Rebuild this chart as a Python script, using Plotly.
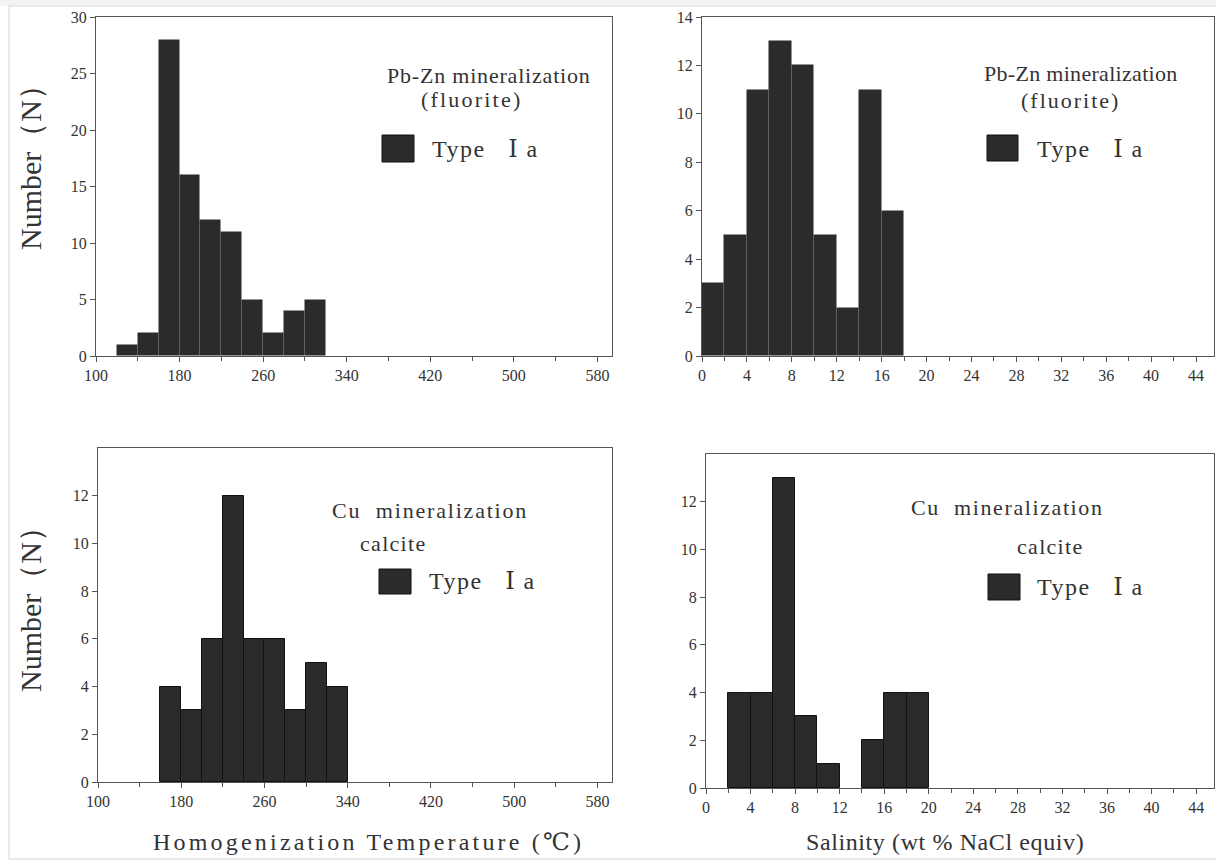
import plotly.graph_objects as go

W, H = 1216, 862

# ---- data ----
temp_pbzn_left = [120, 140, 160, 180, 200, 220, 240, 260, 280, 300]
temp_pbzn_count = [1, 2, 28, 16, 12, 11, 5, 2, 4, 5]

sal_pbzn_left = [0, 2, 4, 6, 8, 10, 12, 14, 16]
sal_pbzn_count = [3, 5, 11, 13, 12, 5, 2, 11, 6]

temp_cu_left = [160, 180, 200, 220, 240, 260, 280, 300, 320]
temp_cu_count = [4, 3, 6, 12, 6, 6, 3, 5, 4]

sal_cu_left = [2, 4, 6, 8, 10, 12, 14, 16, 18]
sal_cu_count = [4, 4, 13, 3, 1, 0, 2, 4, 4]

temp_bin = 20
sal_bin = 2

panel_titles = ["Pb-Zn mineralization", "Pb-Zn mineralization", "Cu  mineralization", "Cu  mineralization"]
panel_subtitles = ["(fluorite)", "(fluorite)", "calcite", "calcite"]
legend_label = "Type   \u2160 a"
y_title = "Number\uff08N\uff09"
x_title_left = "Homogenization Temperature (\u2103)"
x_title_right = "Salinity (wt % NaCl equiv)"

BAR = "#2b2b2b"
AX = "#555555"
TXT = "#333333"
FONT = "Liberation Serif, DejaVu Serif, serif"

def px(x):
    return x / W

def py(y):
    return 1 - y / H

def spaced(text, ls):
    return f'<span style="letter-spacing:{ls}px">{text}</span>'

fig = go.Figure()

datasets = [
    (temp_pbzn_left, temp_pbzn_count, temp_bin, "x", "y", "rgba(0,0,0,0)"),
    (sal_pbzn_left, sal_pbzn_count, sal_bin, "x2", "y2", "rgba(0,0,0,0)"),
    (temp_cu_left, temp_cu_count, temp_bin, "x3", "y3", "#111111"),
    (sal_cu_left, sal_cu_count, sal_bin, "x4", "y4", "#111111"),
]
for left, cnt, bw, xa, ya, lc in datasets:
    fig.add_trace(go.Bar(
        x=left, y=cnt, width=[bw] * len(left), offset=0,
        marker=dict(color=BAR, line=dict(color=lc, width=[1 if c > 0 else 0 for c in cnt])),
        xaxis=xa, yaxis=ya, showlegend=False,
    ))

# panel domains in pixels: (left, right, top, bottom)
doms = [
    (96, 612, 17, 356),
    (702, 1214, 17, 356),
    (98, 612, 448, 782),
    (706, 1214, 454, 788),
]

tickfont = dict(family=FONT, size=16, color=TXT)

def xaxis_cfg(d, rng, dtick, tick0, minor_dtick, anchor):
    return dict(
        domain=[px(d[0]), px(d[1])], range=rng, anchor=anchor, automargin=False,
        showline=True, linecolor=AX, linewidth=1.2, mirror=True,
        ticks="outside", ticklen=5, tickcolor=AX, tick0=tick0, dtick=dtick,
        minor=dict(ticks="outside", ticklen=4, dtick=minor_dtick, tick0=tick0, tickcolor=AX),
        showgrid=False, zeroline=False, tickfont=tickfont, fixedrange=True,
    )

def yaxis_cfg(d, rng, tickvals, anchor):
    return dict(
        domain=[py(d[3]), py(d[2])], range=rng, anchor=anchor, automargin=False,
        showline=True, linecolor=AX, linewidth=1.2, mirror=True,
        ticks="outside", ticklen=5, tickcolor=AX, tickvals=tickvals,
        showgrid=False, zeroline=False, tickfont=tickfont, fixedrange=True,
    )

fig.update_layout(
    xaxis=xaxis_cfg(doms[0], [100, 594], 80, 100, 40, "y"),
    yaxis=yaxis_cfg(doms[0], [0, 30], list(range(0, 31, 5)), "x"),
    xaxis2=xaxis_cfg(doms[1], [0, 45.6], 4, 0, 2, "y2"),
    yaxis2=yaxis_cfg(doms[1], [0, 14], list(range(0, 15, 2)), "x2"),
    xaxis3=xaxis_cfg(doms[2], [100, 594], 80, 100, 40, "y3"),
    yaxis3=yaxis_cfg(doms[2], [0, 14], list(range(0, 13, 2)), "x3"),
    xaxis4=xaxis_cfg(doms[3], [0, 45.6], 4, 0, 2, "y4"),
    yaxis4=yaxis_cfg(doms[3], [0, 14], list(range(0, 13, 2)), "x4"),
    bargap=0,
    width=W, height=H,
    margin=dict(l=0, r=0, t=0, b=0),
    paper_bgcolor="white", plot_bgcolor="white",
    font=dict(family=FONT, color=TXT),
)

# faint image frame
fig.add_shape(type="rect", xref="paper", yref="paper", layer="below",
              x0=0, x1=1, y0=py(6), y1=1, fillcolor="#f3f3f3", line=dict(width=0))
fig.add_shape(type="rect", xref="paper", yref="paper", layer="below",
              x0=px(9), x1=px(1220), y0=py(859), y1=py(6),
              fillcolor="rgba(0,0,0,0)", line=dict(color="#e4e4e4", width=1.5))

# per panel: (title cx, cy, spacing), (subtitle cx, cy, spacing), square box, legend text x,y
ann_pos = [
    ((489, 76, 0.8), (471, 99, 2.2), (382, 135, 414, 162), (430, 149)),
    ((1081, 73, 0.3), (1070, 100, 2.0), (987, 135, 1018, 161), (1035, 149)),
    ((430, 510, 1.8), (393, 543, 1.3), (379, 569, 411, 594), (427, 581)),
    ((1007, 507, 1.6), (1050, 546, 1.3), (988, 574, 1020, 600), (1035, 587)),
]
for i, (t, s, sq, lt) in enumerate(ann_pos):
    fig.add_annotation(x=px(t[0]), y=py(t[1]), xref="paper", yref="paper",
                       text=spaced(panel_titles[i], t[2]), showarrow=False,
                       xanchor="center", yanchor="middle",
                       font=dict(family=FONT, size=22, color=TXT))
    fig.add_annotation(x=px(s[0]), y=py(s[1]), xref="paper", yref="paper",
                       text=spaced(panel_subtitles[i], s[2]), showarrow=False,
                       xanchor="center", yanchor="middle",
                       font=dict(family=FONT, size=22, color=TXT))
    fig.add_shape(type="rect", xref="paper", yref="paper",
                  x0=px(sq[0]), x1=px(sq[2]), y0=py(sq[3]), y1=py(sq[1]),
                  fillcolor=BAR, line=dict(color="#111", width=1))
    fig.add_annotation(x=px(lt[0]), y=py(lt[1]), xref="paper", yref="paper",
                       text=spaced(legend_label, 1.5), showarrow=False,
                       xanchor="left", yanchor="middle",
                       font=dict(family=FONT, size=24, color=TXT))

# axis titles
for yc in (160, 602):
    fig.add_annotation(x=px(30), y=py(yc), xref="paper", yref="paper", text=y_title,
                       textangle=-90, showarrow=False, xanchor="center", yanchor="middle",
                       font=dict(family=FONT, size=30, color=TXT))
fig.add_annotation(x=px(368), y=py(842), xref="paper", yref="paper",
                   text=spaced(x_title_left, 3.2), showarrow=False,
                   xanchor="center", yanchor="middle", font=dict(family=FONT, size=24, color=TXT))
fig.add_annotation(x=px(945), y=py(842), xref="paper", yref="paper",
                   text=spaced(x_title_right, 0.6), showarrow=False,
                   xanchor="center", yanchor="middle", font=dict(family=FONT, size=24, color=TXT))

fig.write_html("out.html")
